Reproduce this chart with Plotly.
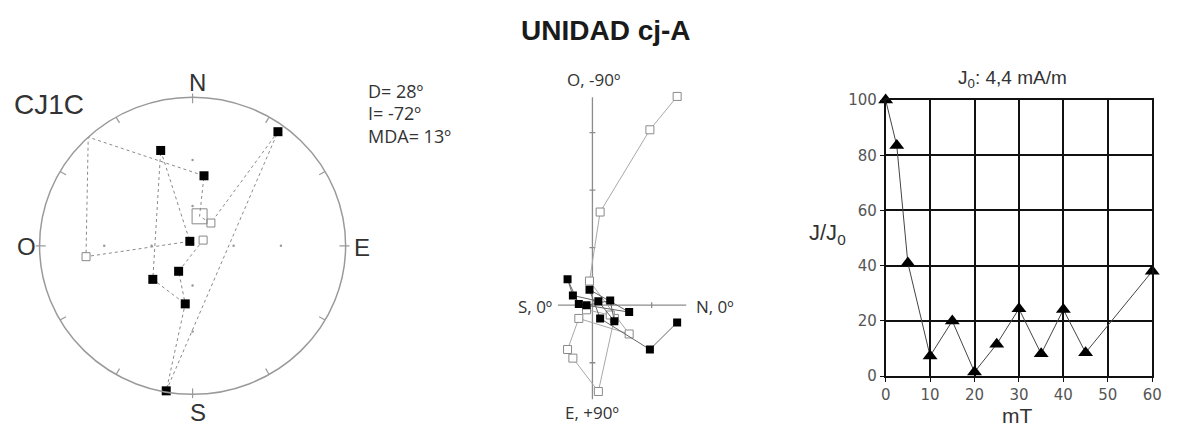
import math
import plotly.graph_objects as go

W, H = 1180, 435

# ---------------- data ----------------
title_text = "UNIDAD cj-A"
sample_name = "CJ1C"
mean_D, mean_I, mean_MDA = 28, -72, 13

# stereonet: measured directions (declination, inclination, degrees)
dir_dec = [61, 208, 187, 190, 36, 38, 9, 264, 329, 342, 229]
dir_inc = [-81, 68, 47, 0.5, 3, -68, 39, -20, 86, 22, 52]
# joining order: index into dir_*, 'm' = through mean position, 'x' = across primitive circle
path_order = [0, 1, 2, 3, 4, 5, "m", 6, "x", 7, 8, 9, 10, 2]
cross_dec = 317
# plotted position of the mean direction (big open square)
mean_plot_dec, mean_plot_inc = 13, -67

# Zijderveld: components per demag step (N, E, Down), in mA/m
zij_N = [1.43, 0.97, 0.13, -0.05, 0.62, -0.23, -0.42, -0.33, 0.10, 0.37, 0.30, -0.10]
zij_E = [0.30, 0.77, 0.23, -0.27, 0.12, -0.02, -0.45, -0.17, -0.07, 0.28, -0.08, 0.00]
zij_D = [-3.63, -3.05, -1.62, -0.42, 0.50, 0.23, 0.77, 0.92, 1.50, 0.23, 0.17, 0.08]

# intensity decay
field_mT = [0, 2.5, 5, 10, 15, 20, 25, 30, 35, 40, 45, 60]
J_rel = [100, 83.5, 41, 7.3, 20, 1.5, 11.6, 24.4, 8.1, 24.1, 8.5, 38]
J0_text = "J<sub>0</sub>: 4,4 mA/m"


def px(x, y):
    return x / W, 1 - y / H


def wulff(dec, inc):
    r = math.tan(math.radians(90 - abs(inc)) / 2)
    return r * math.sin(math.radians(dec)), r * math.cos(math.radians(dec))


fig = go.Figure()

# ---------------- stereonet ----------------
CX, CY, R = 190, 247, 155
grey = "#9a9a9a"

# ticks
tx, ty = [], []
for a in range(0, 360, 30):
    r0, r1 = (0.96, 1.025) if a % 90 == 0 else (0.955, 1.0)
    s, c = math.sin(math.radians(a)), math.cos(math.radians(a))
    tx += [r0 * s, r1 * s, None]
    ty += [r0 * c, r1 * c, None]
fig.add_trace(go.Scatter(x=tx, y=ty, mode="lines", line=dict(color=grey, width=1.2),
                         xaxis="x", yaxis="y", hoverinfo="skip", showlegend=False))
# grid dots at inclination 60 and 30
gx, gy = [], []
for inc in (60, 30):
    for a in (0, 90, 180, 270):
        x, y = wulff(a, inc)
        gx.append(x)
        gy.append(y)
fig.add_trace(go.Scatter(x=gx, y=gy, mode="markers", marker=dict(color=grey, size=2.5),
                         xaxis="x", yaxis="y", hoverinfo="skip", showlegend=False))

# path
lx, ly = [], []
for p in path_order:
    if p == "m":
        x, y = wulff(mean_plot_dec, mean_plot_inc)
    elif p == "x":
        x, y = math.sin(math.radians(cross_dec)), math.cos(math.radians(cross_dec))
    else:
        x, y = wulff(dir_dec[p], dir_inc[p])
    lx.append(x)
    ly.append(y)
fig.add_trace(go.Scatter(x=lx, y=ly, mode="lines", line=dict(color="#8a8a8a", width=1, dash="dot"),
                         xaxis="x", yaxis="y", hoverinfo="skip", showlegend=False))

fx, fy, ox, oy = [], [], [], []
for d, i in zip(dir_dec, dir_inc):
    x, y = wulff(d, i)
    if i >= 0:
        fx.append(x); fy.append(y)
    else:
        ox.append(x); oy.append(y)
fig.add_trace(go.Scatter(x=ox, y=oy, mode="markers",
                         marker=dict(symbol="square", size=8, color="white", line=dict(color="#888", width=1)),
                         xaxis="x", yaxis="y", showlegend=False))
mx, my = wulff(mean_plot_dec, mean_plot_inc)
fig.add_trace(go.Scatter(x=[mx], y=[my], mode="markers",
                         marker=dict(symbol="square-open", size=15, color="#888", line=dict(width=1)),
                         xaxis="x", yaxis="y", showlegend=False))
fig.add_trace(go.Scatter(x=fx, y=fy, mode="markers", cliponaxis=False,
                         marker=dict(symbol="square", size=9, color="black"),
                         xaxis="x", yaxis="y", showlegend=False))

fig.add_shape(type="circle", xref="x", yref="y", x0=-1, x1=1, y0=-1, y1=1,
              line=dict(color=grey, width=1.5))

# ---------------- Zijderveld ----------------
ZX, ZY, ZS = 595, 309, 60
axc = "#8c8c8c"
ax_x = [(560 - ZX) / ZS, (690 - ZX) / ZS, None, 0, 0]
ax_y = [0, 0, None, (ZY - 92) / ZS, -(407 - ZY) / ZS]
for t in (1, 2, 3, -1):
    ax_x += [None, -0.05, 0.05]
    ax_y += [None, t, t]
ax_x += [None, 1, 1]
ax_y += [None, -0.05, 0.05]
fig.add_trace(go.Scatter(x=ax_x, y=ax_y, mode="lines", line=dict(color=axc, width=1.3),
                         xaxis="x2", yaxis="y2", hoverinfo="skip", showlegend=False))
fig.add_trace(go.Scatter(x=zij_N, y=[-v for v in zij_D], mode="lines+markers",
                         line=dict(color="#a8a8a8", width=1),
                         marker=dict(symbol="square", size=8, color="white", line=dict(color="#8a8a8a", width=1)),
                         xaxis="x2", yaxis="y2", showlegend=False))
fig.add_trace(go.Scatter(x=zij_N, y=[-v for v in zij_E], mode="lines+markers",
                         line=dict(color="#666", width=1),
                         marker=dict(symbol="square", size=8, color="black"),
                         xaxis="x2", yaxis="y2", showlegend=False))

# ---------------- intensity decay ----------------
fig.add_trace(go.Scatter(x=field_mT, y=J_rel, mode="lines+markers", cliponaxis=False,
                         line=dict(color="#444", width=1),
                         marker=dict(symbol="triangle-up", size=13, color="black"),
                         xaxis="x3", yaxis="y3", showlegend=False))

# ---------------- annotations ----------------
def ann(text, x, y, size, color="#333", family="Liberation Sans, Arial", xanchor="center", bold=False):
    ax_, ay_ = px(x, y)
    fig.add_annotation(text=f"<b>{text}</b>" if bold else text, x=ax_, y=ay_, xref="paper", yref="paper",
                       showarrow=False, xanchor=xanchor, yanchor="middle",
                       font=dict(size=size, color=color, family=family))

ann(title_text, 609, 22, 28, color="#1a1a1a", bold=True)
ann(sample_name, 45, 100, 28)
ann("N", 195, 77, 24)
ann("S", 195, 421, 24)
ann("O", 22, 248, 24)
ann("E", 362, 249, 24)
calib = "Open Sans, Lato, sans-serif"
ann(f"D= {mean_D}º", 366, 86, 18, family=calib, xanchor="left")
ann(f"I= {mean_I}º", 366, 109, 18, family=calib, xanchor="left")
ann(f"MDA= {mean_MDA}º", 366, 132, 18, family=calib, xanchor="left")
ann("O, -90º", 596, 74, 17, family=calib)
ann("E, +90º", 595, 421, 17, family=calib)
ann("S, 0º", 556, 310, 17, family=calib, xanchor="right")
ann("N, 0º", 698, 310, 17, family=calib, xanchor="left")
ann(J0_text, 1020, 73, 19)
ann("J/J<sub>0</sub>", 833, 235, 22)
ann("mT", 1025, 424, 21)

fig.update_layout(
    width=W, height=H, margin=dict(l=0, r=0, t=0, b=0),
    paper_bgcolor="white", plot_bgcolor="white", showlegend=False,
    xaxis=dict(domain=[0, 380 / W], range=[-CX / R, (380 - CX) / R], visible=False),
    yaxis=dict(domain=[0, 375 / H], range=[-(H - CY) / R, (CY - 60) / R], visible=False),
    xaxis2=dict(domain=[500 / W, 740 / W], range=[(500 - ZX) / ZS, (740 - ZX) / ZS], visible=False),
    yaxis2=dict(domain=[0, 375 / H], range=[-(H - ZY) / ZS, (ZY - 60) / ZS], visible=False),
    xaxis3=dict(domain=[892 / W, 1162 / W], range=[0, 60], dtick=10, tick0=0,
                showgrid=True, gridcolor="#111", gridwidth=1.5, zeroline=False,
                showline=True, linecolor="#111", linewidth=1.5, mirror=True,
                ticks="outside", ticklen=4, tickcolor="#111",
                tickfont=dict(size=15, color="#555", family="DejaVu Sans"), anchor="y3"),
    yaxis3=dict(domain=[(H - 383) / H, (H - 95) / H], range=[0, 100], dtick=20, tick0=0,
                showgrid=True, gridcolor="#111", gridwidth=1.5, zeroline=False,
                showline=True, linecolor="#111", linewidth=1.5, mirror=True,
                ticks="outside", ticklen=4, tickcolor="#111",
                tickfont=dict(size=15, color="#555", family="DejaVu Sans"), anchor="x3"),
)

fig.write_html("out.html", config={"displayModeBar": False},
               post_script="document.body.style.margin='0';document.body.style.overflow='hidden';")
